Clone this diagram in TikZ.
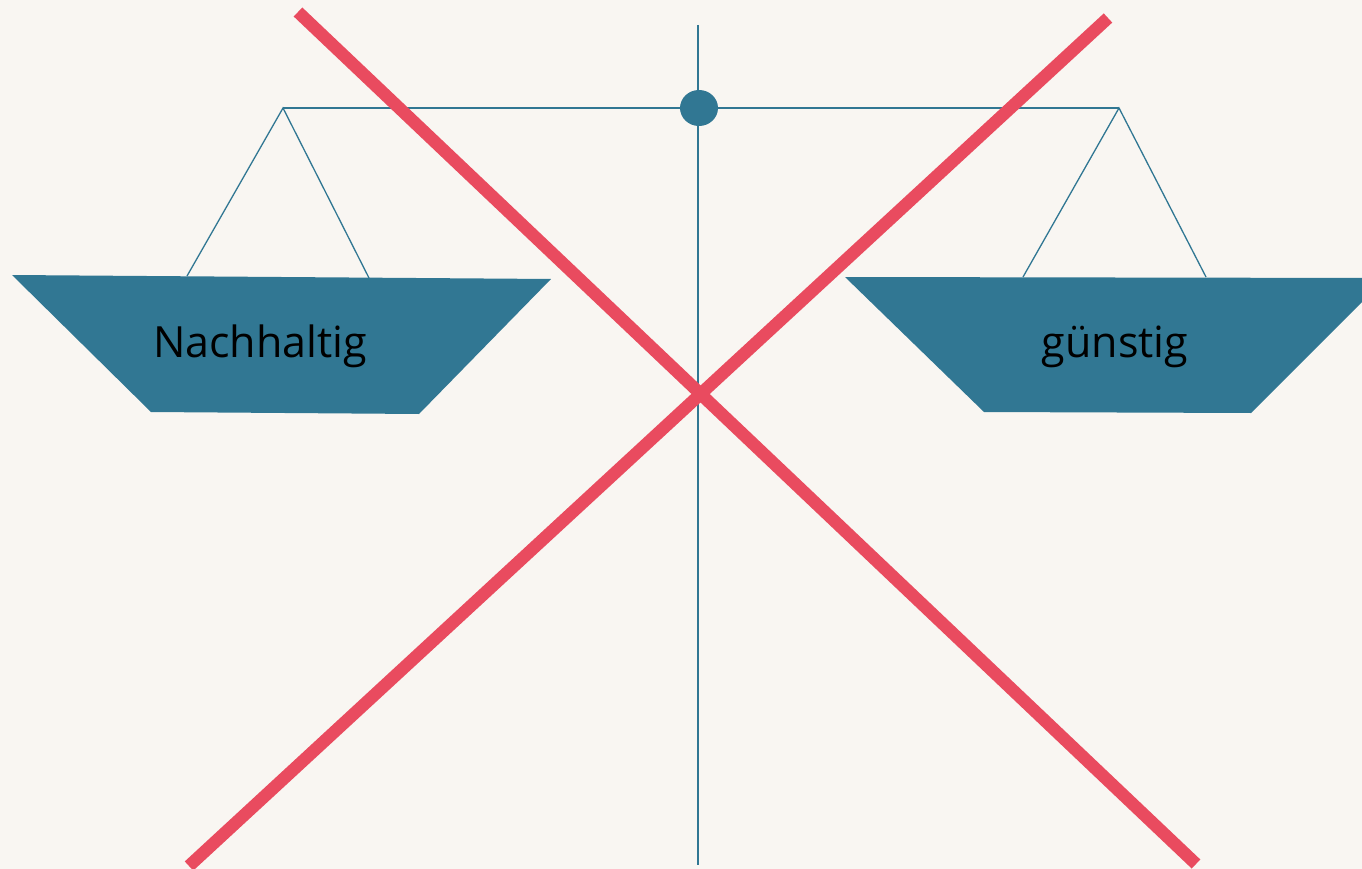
\documentclass[tikz,border=0pt]{standalone}
\usepackage{fontspec}
\setmainfont{Open Sans}
\usetikzlibrary{shapes.geometric}
\definecolor{bg}{HTML}{F9F6F2}
\definecolor{teal}{HTML}{317793}
\definecolor{xred}{HTML}{E94B5F}
\begin{document}
\begin{tikzpicture}[x=1pt,y=-1pt,
  thin line/.style={draw=teal,line width=1.3pt},
  pan/.style={fill=teal,draw=none},
  cross/.style={draw=xred,line width=12.5pt},
  label/.style={font=\fontsize{43}{52}\selectfont,text=black,inner sep=0pt}]
\fill[bg] (0,0) rectangle (1362,869);
\useasboundingbox (0,0) rectangle (1362,869);
% coordinates
\coordinate (top) at (698,25);
\coordinate (bot) at (698,865);
\coordinate (la) at (283,108);
\coordinate (ra) at (1119,108);
\coordinate (ls1) at (187,276);
\coordinate (ls2) at (369,278);
\coordinate (rs1) at (1023,277);
\coordinate (rs2) at (1206,277);
% stand and beam
\draw[thin line] (top) -- (bot);
\draw[thin line] (la) -- (ra);
\draw[thin line] (ls1) -- (la) -- (ls2);
\draw[thin line] (rs1) -- (ra) -- (rs2);
% pans
\fill[pan] (12,275) -- (551,279) -- (419,414) -- (151,412) -- cycle;
\begin{scope}
\clip (0,0) rectangle (1362,869);
\fill[pan] (845,277) -- (1386,278) -- (1251,413) -- (984,412) -- cycle;
\end{scope}
% pivot
\node[ellipse,fill=teal,minimum width=38pt,minimum height=36pt,inner sep=0pt] (pivot) at (699,108) {};
% labels
\node[label,anchor=base] (nach) at (260,357) {Nachhaltig};
\node[label,anchor=base] (gun) at (1115,357) {günstig};
% cross
\coordinate (c1a) at (298,12);
\coordinate (c1b) at (1196,864);
\coordinate (c2a) at (1108,18);
\coordinate (c2b) at (189,866);
\draw[cross] (c1a) -- (c1b);
\draw[cross] (c2a) -- (c2b);
\end{tikzpicture}
\end{document}
